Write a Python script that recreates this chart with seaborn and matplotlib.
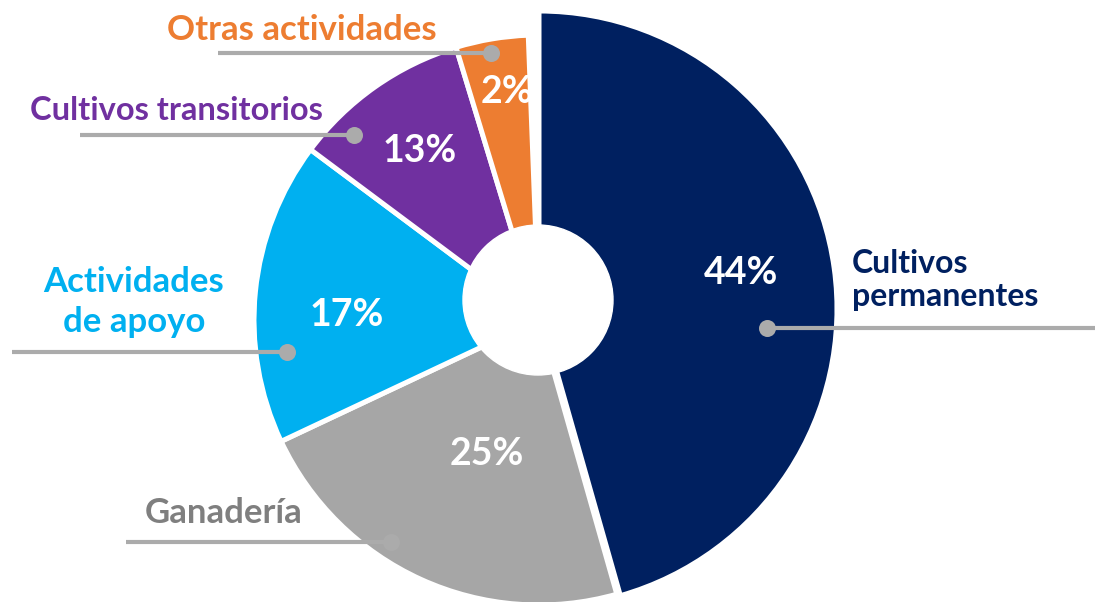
"""
Distribución por actividad — dona con etiquetas y líneas guía.
Salida: out.png (1095x602)
"""

import matplotlib.pyplot as plt
import seaborn as sns
from matplotlib.patches import Circle

# ── Datos ─────────────────────────────────────────────────────────────────────
categorias = ['Cultivos permanentes', 'Ganadería', 'Actividades de apoyo',
              'Cultivos transitorios', 'Otras actividades']
etiquetas = ['Cultivos\npermanentes', 'Ganadería', 'Actividades\nde apoyo',
             'Cultivos transitorios', 'Otras actividades']
porcentajes = ['44%', '25%', '17%', '13%', '2%']
# fracción del círculo tal como aparece dibujada
fracciones = [0.456, 0.224, 0.172, 0.101, 0.041]

COLORES = ['#002060', '#A6A6A6', '#00B0F0', '#7030A0', '#ED7D31']
COLOR_TEXTO = ['#002060', '#7F7F7F', '#00B0F0', '#7030A0', '#ED7D31']
GRIS_LINEA = '#ABABAB'

W, H = 1095, 602


def py(y):
    """Coordenada vertical de píxel (desde arriba) a datos (desde abajo)."""
    return H - y


# ── Estilo ────────────────────────────────────────────────────────────────────
sns.set_theme(style='white')
plt.rcParams['font.family'] = ['Lato', 'DejaVu Sans']

fig = plt.figure(figsize=(W / 100, H / 100), dpi=100)
ax = fig.add_axes([0, 0, 1, 1])

wedges, _ = ax.pie(
    fracciones,
    colors=COLORES,
    startangle=90,
    counterclock=False,
    normalize=False,
    center=(539, py(320)),
    radius=285,
    wedgeprops=dict(edgecolor='white', linewidth=3.6),
    frame=False,
)
# la porción principal sobresale un poco
wedges[0].set_center((539, py(309)))
wedges[0].set_radius(298)

# agujero central
ax.add_patch(Circle((538, py(300)), 75, color='white', zorder=3))

# porcentajes dentro de las porciones
pos_pct = [(741, 273), (487, 454), (347, 315), (420, 151), (507, 92)]
for (x, y), txt in zip(pos_pct, porcentajes):
    ax.text(x, py(y), txt, color='white', fontsize=27, fontweight='bold',
            ha='center', va='center', zorder=4)

# líneas guía: (x inicio, x punto, y)
guias = [(1095, 767, 328), (126, 391, 542), (12, 287, 352),
         (80, 354, 135), (218, 491, 53)]
for x0, x1, y in guias:
    ax.plot([x0, x1], [py(y), py(y)], color=GRIS_LINEA, lw=3, zorder=5,
            solid_capstyle='butt')
    ax.scatter([x1], [py(y)], s=150, color=GRIS_LINEA, zorder=6, linewidths=0)

# etiquetas de categoría: (x, y línea base de la última línea, alineación,
# tamaño, interlineado)
pos_etq = [
    (852, 306, 'left', 23, 1.18),
    (303, 523, 'right', 25, 1.2),
    (134, 332, 'center', 25, 1.3),
    (323, 120, 'right', 23.5, 1.2),
    (437, 40, 'right', 25, 1.2),
]
for (x, y, ha, fs, ls), txt, col in zip(pos_etq, etiquetas, COLOR_TEXTO):
    ax.text(x, py(y), txt, color=col, fontsize=fs, fontweight='bold',
            ha=ha, va='baseline', linespacing=ls, zorder=7,
            multialignment=ha)

ax.set_xlim(0, W)
ax.set_ylim(0, H)
ax.set_aspect('equal')
ax.axis('off')

fig.savefig('out.png', dpi=100, facecolor='white')
